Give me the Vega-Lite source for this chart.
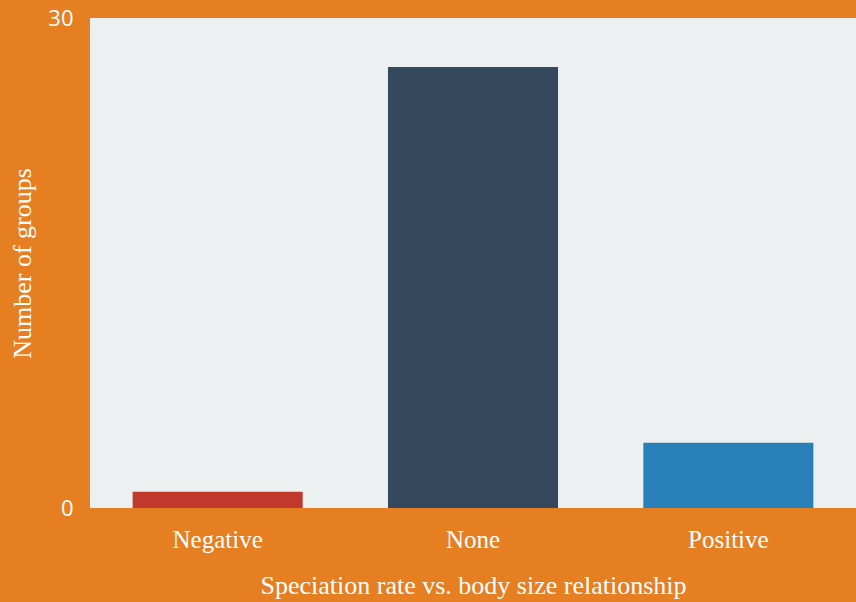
{
  "$schema": "https://vega.github.io/schema/vega-lite/v6.json",
  "autosize": "none",
  "width": 766,
  "height": 490,
  "padding": {"left": 90, "top": 18, "right": 0, "bottom": 94},
  "background": "#E67E22",
  "view": {"fill": "#ECF0F1", "stroke": null},
  "data": {"values": [
    {"relationship": "Negative", "groups": 1},
    {"relationship": "None", "groups": 27},
    {"relationship": "Positive", "groups": 4}
  ]},
  "mark": {"type": "bar"},
  "encoding": {
    "x": {
      "field": "relationship", "type": "nominal",
      "scale": {"paddingInner": 0.334, "paddingOuter": 0.167},
      "axis": {
        "title": "Speciation rate vs. body size relationship",
        "labelAngle": 0, "labelFont": "Liberation Serif", "labelFontSize": 25, "labelColor": "white",
        "labelPadding": 19, "ticks": false, "domain": false,
        "titleFont": "Liberation Serif", "titleFontSize": 26, "titleFontWeight": "normal", "titleColor": "white",
        "titlePadding": 20
      }
    },
    "y": {
      "field": "groups", "type": "quantitative",
      "scale": {"domain": [0, 30]},
      "axis": {
        "title": "Number of groups", "values": [0, 30], "grid": false, "ticks": false, "domain": false,
        "labelFont": "Open Sans", "labelFontSize": 22, "labelColor": "white", "labelPadding": 17,
        "titleFont": "Liberation Serif", "titleFontSize": 26, "titleFontWeight": "normal", "titleColor": "white",
        "titlePadding": 12
      }
    },
    "color": {
      "field": "relationship", "type": "nominal",
      "scale": {"domain": ["Negative", "None", "Positive"], "range": ["#C0392B", "#34495E", "#2980B9"]},
      "legend": null
    }
  }
}
